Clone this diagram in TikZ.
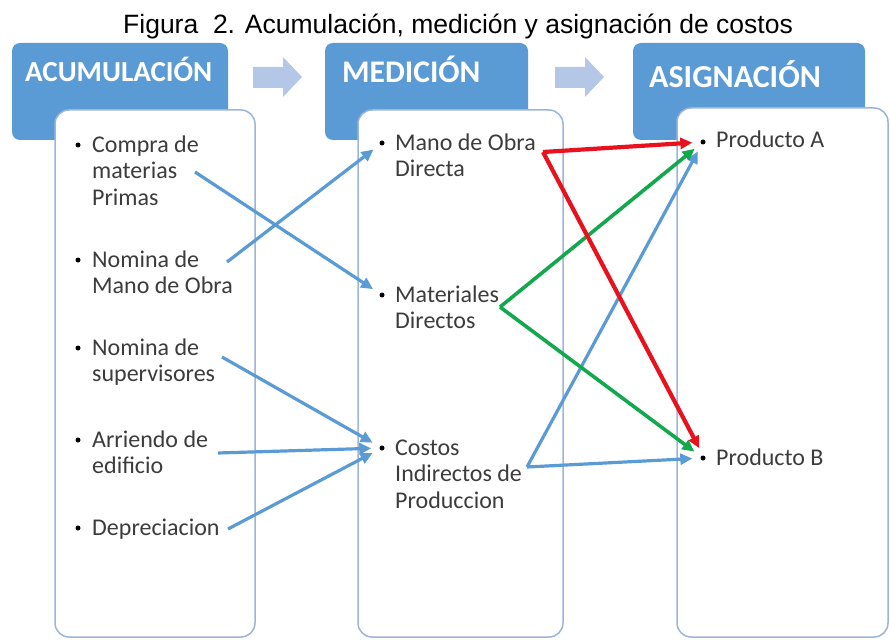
\documentclass[tikz,border=0pt]{standalone}
\usepackage{fontspec}
\setmainfont{Carlito}
\newfontfamily\titlefont{Liberation Sans}
\usetikzlibrary{arrows.meta}

\definecolor{headblue}{HTML}{5B9BD5}
\definecolor{stepblue}{HTML}{B4C7E7}
\definecolor{panelline}{HTML}{9DB5DA}
\definecolor{itemgray}{HTML}{3C3C3C}
\definecolor{linkblue}{HTML}{5B9BD5}
\definecolor{linkred}{HTML}{E8121E}
\definecolor{linkgreen}{HTML}{12A84E}

\tikzset{
  head/.style={fill=headblue, rounded corners=8pt},
  headtxt/.style={anchor=base west, inner sep=0pt, text=white, font=\fontsize{29}{34}\selectfont\bfseries},
  panel/.style={draw=panelline, line width=1.5pt, fill=white, rounded corners=14pt},
  item/.style={anchor=base west, inner sep=0pt, align=left, text=itemgray, font=\fontsize{24}{26.5}\selectfont},
  dot/.style={circle, fill=black, inner sep=0pt, minimum size=5pt},
  link/.style={line width=3.2pt, -{Triangle[length=12pt,width=11pt]}, shorten >=8pt},
}

\begin{document}
\begin{tikzpicture}[x=1pt,y=-1pt]
\useasboundingbox (0,0) rectangle (890,639);

\node[anchor=base west, inner sep=0pt, font=\titlefont\fontsize{26.5}{30}\selectfont] (title) at (123,34) {Figura\ \ 2. Acumulación, medición y asignación de costos};

% encabezados
\path[head] (12,43) rectangle (228,140);
\path[head] (325,43) rectangle (528,140);
\path[head] (633,43) rectangle (865,140);
\node[headtxt] (hacu) at (25,82) {ACUMULACIÓN};
\node[headtxt, font=\fontsize{31.5}{36}\selectfont\bfseries] (hmed) at (342,83) {MEDICIÓN};
\node[headtxt, font=\fontsize{32}{36}\selectfont\bfseries] (hasi) at (649,88) {ASIGNACIÓN};

\foreach \x in {253,555}
  \fill[stepblue] (\x,67) -- (\x+30,67) -- (\x+30,57) -- (\x+49,77) -- (\x+30,97) -- (\x+30,88) -- (\x,88) -- cycle;

% paneles
\path[panel] (55,110) rectangle (255,637);
\path[panel] (358,110) rectangle (563,637);
\path[panel] (677,108) rectangle (888,637);

% acumulacion (base = ultima linea)
\node[dot] (b1) at (78,145) {};
\node[item] (compra) at (92,205) {Compra de\\materias\\Primas};
\node[dot] (b2) at (78,260) {};
\node[item] (nomina) at (92,293.5) {Nomina de\\Mano de Obra};
\node[dot] (b3) at (78,348) {};
\node[item] (superv) at (92,381.5) {Nomina de\\supervisores};
\node[dot] (b4) at (78,440) {};
\node[item] (arriendo) at (92,473.5) {Arriendo de\\edificio};
\node[dot] (b5) at (78,528) {};
\node[item] (deprec) at (92,535) {Depreciacion};

% medicion
\node[dot] (bmano) at (382,143) {};
\node[item] (mano) at (395,176.5) {Mano de Obra\\Directa};
\node[dot] (bmater) at (382,295) {};
\node[item] (mater) at (395,328.5) {Materiales\\Directos};
\node[dot] (bcost) at (382,448) {};
\node[item] (cost) at (395,508) {Costos\\Indirectos de\\Produccion};

% asignacion
\node[dot] (bA) at (703,142) {};
\node[item] (prodA) at (716,148) {Producto A};
\node[dot] (bB) at (703,458) {};
\node[item] (prodB) at (716,465) {Producto B};

% puntos de salida
\coordinate (s1) at (195,172);
\coordinate (s2) at (227,262);
\coordinate (s3) at (222,357);
\coordinate (s4) at (218,453);
\coordinate (s5) at (228,529);
\coordinate (r0) at (543,152);
\coordinate (g0) at (500,307);
\coordinate (c0) at (527,467);

\draw[link,linkblue] (s1) -- (bmater);
\draw[link,linkblue] (s2) -- (bmano);
\draw[link,linkblue] (s3) -- (bcost);
\draw[link,linkblue] (s4) -- (bcost);
\draw[link,linkblue] (s5) -- (bcost);

\draw[link,linkblue] (c0) -- (bA);
\draw[link,linkblue] (c0) -- (bB);
\draw[link,linkgreen,line width=3.6pt] (g0) -- (bA);
\draw[link,linkgreen,line width=3.6pt] (g0) -- (bB);
\draw[link,linkred,line width=4.2pt] (r0) -- (bA);
\draw[link,linkred,line width=4.2pt] (r0) -- (bB.north);
\end{tikzpicture}
\end{document}
